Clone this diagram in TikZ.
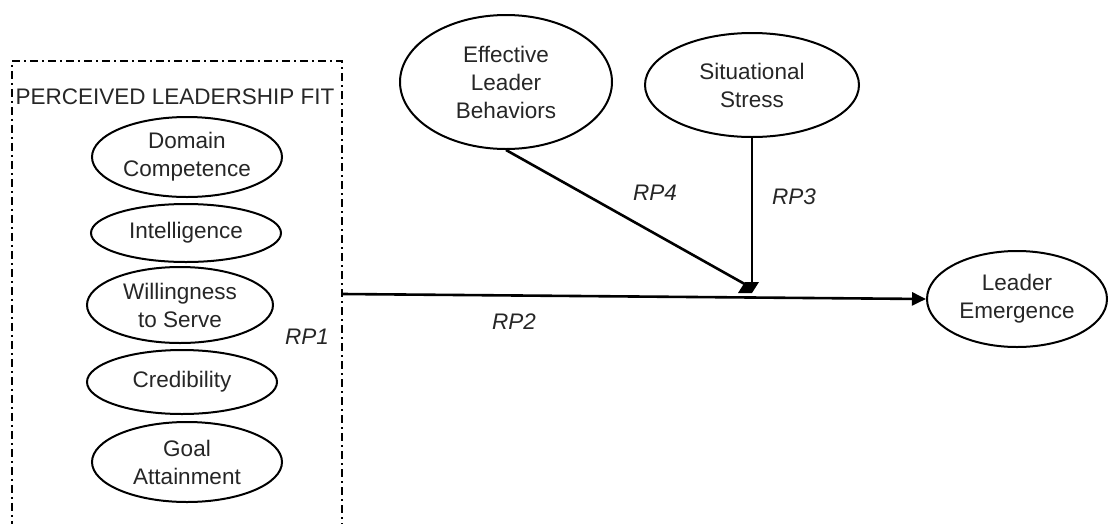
\documentclass[tikz,border=0pt]{standalone}
\usepackage{fontspec}
\setmainfont{Liberation Sans}
\usetikzlibrary{shapes.geometric,arrows.meta}
\begin{document}
\begin{tikzpicture}[x=1pt,y=-1pt,
  every node/.style={font=\fontsize{22.5}{28}\selectfont, text=black!85},
  oval/.style={draw=black, text=black!85, ellipse, line width=2pt, inner sep=0pt, align=center},
  conn/.style={line width=2.6pt, draw=black},
  lbl/.style={font=\fontsize{22.5}{28}\selectfont\itshape, text=black!85},
  groupbox/.style={draw=black, line width=1.8pt, dash pattern=on 8pt off 4pt on 2pt off 4pt, inner sep=0pt},
  ]
\useasboundingbox (0,0) rectangle (1109,523);
\clip (0,0) rectangle (1109,523);
\fill[white] (0,0) rectangle (1109,523);

% group box
\node[groupbox, minimum width=330pt, minimum height=500pt, anchor=north west] (plf) at (11,60) {};
\node (title) at (175,97) {PERCEIVED LEADERSHIP FIT};

% inner ellipses
\node[oval, minimum width=190pt, minimum height=80pt] (dc) at (187,157) {Domain\\Competence};
\node[oval, minimum width=190pt, minimum height=58pt] (intel) at (186,233) {Intelligence};
\node[oval, minimum width=186pt, minimum height=76pt] (will) at (180,305) {Willingness\\to Serve};
\node[oval, minimum width=190pt, minimum height=64pt] (cred) at (182,382) {Credibility};
\node[oval, minimum width=190pt, minimum height=80pt] (goal) at (187,462) {Goal\\Attainment};

% other ellipses
\node[oval, minimum width=212pt, minimum height=134pt] (elb) at (506,82) {Effective\\Leader\\Behaviors};
\node[oval, minimum width=214pt, minimum height=104pt] (ss) at (752,85) {Situational\\Stress};
\node[oval, minimum width=180pt, minimum height=96pt] (le) at (1017,299) {Leader\\Emergence};

% connectors
\path (plf.north east) ++(0,234) coordinate (src);
\coordinate (j) at (750,287);
\draw[conn, -{Triangle[length=14pt,width=13pt]}] (src) -- (le.west);
\draw[conn] (elb.south) -- (j);
\draw[conn] (ss.south) -- (ss.south |- j);
\fill[black] (j) ++(-12,6) -- ++(7,-11) -- ++(14,0) -- ++(-7,11) -- cycle;

% labels
\node[lbl] (rp1) at (307,337) {RP1};
\node[lbl] (rp2) at (514,322) {RP2};
\node[lbl] (rp4) at (655,193) {RP4};
\node[lbl] (rp3) at (794,197) {RP3};
\end{tikzpicture}
\end{document}
